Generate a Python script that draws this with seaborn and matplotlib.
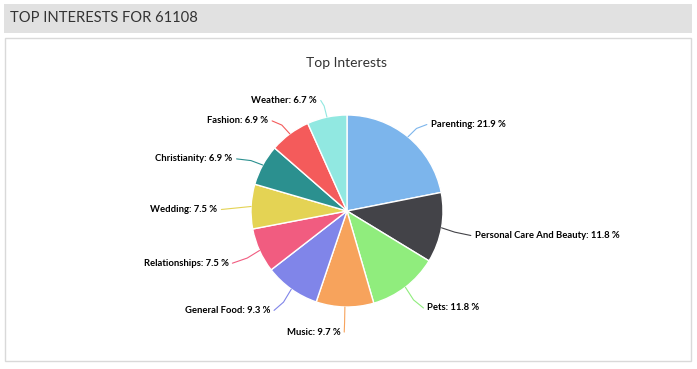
import numpy as np
import matplotlib
matplotlib.use("Agg")
import matplotlib.pyplot as plt
import seaborn as sns
from matplotlib.patches import Rectangle

# data
categories = ["Parenting", "Personal Care And Beauty", "Pets", "Music", "General Food",
              "Relationships", "Wedding", "Christianity", "Fashion", "Weather"]
shares = [21.9, 11.8, 11.8, 9.7, 9.3, 7.5, 7.5, 6.9, 6.9, 6.7]
colors = ["#7cb5ec", "#434348", "#90ed7d", "#f7a35c", "#8085e9",
          "#f15c80", "#e4d354", "#2b908f", "#f45b5b", "#91e8e1"]
header = "TOP INTERESTS FOR 61108"
title = "Top Interests"

sns.set_theme(style="white")
plt.rcParams["font.family"] = ["Lato", "DejaVu Sans"]

# work in pixel units so the layout is easy to place
W, H = 697, 369
fig = plt.figure(figsize=(W / 100, H / 100), dpi=100)
ax = fig.add_axes([0, 0, 1, 1])

# header band and panel
ax.add_patch(Rectangle((4, H - 33), 688, 29, facecolor="#e1e1e1", edgecolor="none"))
ax.text(10, H - 18, header, fontsize=10.6, color="#333333", va="center")
ax.add_patch(Rectangle((5, H - 361), 686, 323, facecolor="white",
                       edgecolor="#d9d9d9", lw=1))
ax.text(347, H - 63, title, fontsize=10, color="#333333", ha="center", va="center")

cx, cy, r = 347, H - 211, 96
wedges, _ = ax.pie(shares, colors=colors, startangle=90, counterclock=False,
                   center=(cx, cy), radius=r, frame=True,
                   wedgeprops=dict(edgecolor="white", linewidth=1))

# labels with connectors, highcharts style
for w, name, val in zip(wedges, categories, shares):
    th = np.deg2rad((w.theta1 + w.theta2) / 2)
    c, s = np.cos(th), np.sin(th)
    side = 1 if c >= 0 else -1
    ex, ey = cx + r * c, cy + r * s
    bx, by = cx + 1.14 * r * c, cy + 1.14 * r * s - 2
    lx, ly = cx + 1.31 * r * c, cy + 1.22 * r * s - 4
    ax.plot([ex, bx, lx], [ey, by, ly], color=w.get_facecolor(), lw=0.8,
            solid_capstyle="round", zorder=1)
    ax.text(lx + side * 4, ly, f"{name}: {val} %", fontsize=6.8, fontweight="bold",
            color="#000000", ha="left" if side > 0 else "right", va="center")

ax.set_xlim(0, W)
ax.set_ylim(0, H)
ax.set_aspect("auto")
ax.axis("off")

fig.savefig("out.png", dpi=100)
